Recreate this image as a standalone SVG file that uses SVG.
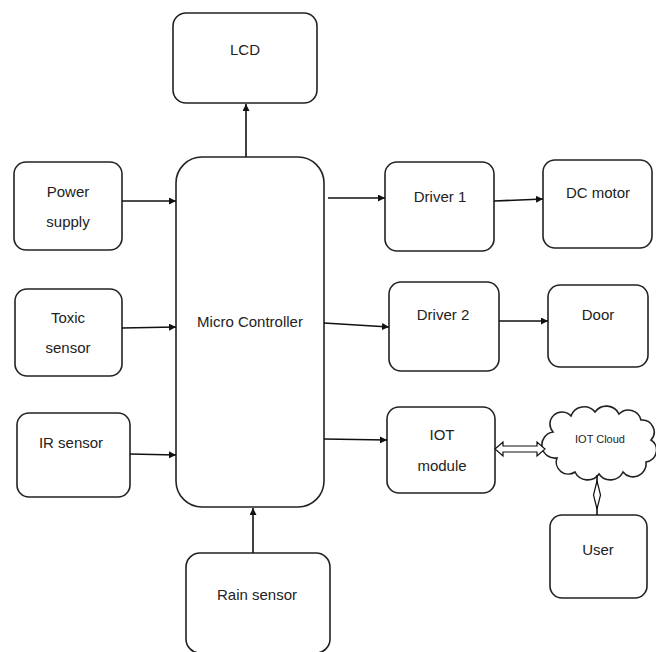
<svg xmlns="http://www.w3.org/2000/svg" width="656" height="652" viewBox="0 0 656 652">
<defs>
<style>
.box{fill:#fff;stroke:#222;stroke-width:1.6}
.t{font-family:"Liberation Sans",Arial,sans-serif;font-size:15px;fill:#222;text-anchor:middle}
.ts{font-family:"Liberation Sans",Arial,sans-serif;font-size:11px;fill:#222;text-anchor:middle}
.c{fill:none;stroke:#111;stroke-width:1.6}
.h{fill:#fff;stroke:#111;stroke-width:1.2}
</style>
<marker id="ah" viewBox="0 0 10 10" refX="10" refY="5" markerWidth="7" markerHeight="7" markerUnits="userSpaceOnUse" orient="auto">
<path d="M0,0 L10,5 L0,10 Z" fill="#111"/>
</marker>
</defs>
<rect width="656" height="652" fill="#fff"/>
<g id="lcd"><rect class="box" x="173" y="13" width="144" height="90" rx="13"/><text class="t" x="245" y="55">LCD</text></g>
<g id="power"><rect class="box" x="14" y="162" width="108" height="88" rx="12"/><text class="t" x="68" y="197">Power</text><text class="t" x="68" y="227">supply</text></g>
<g id="toxic"><rect class="box" x="15" y="289" width="107" height="87" rx="12"/><text class="t" x="68" y="323">Toxic</text><text class="t" x="68" y="353">sensor</text></g>
<g id="ir"><rect class="box" x="17" y="413" width="113" height="84" rx="12"/><text class="t" x="71" y="448">IR sensor</text></g>
<g id="mc"><rect class="box" x="176" y="157" width="148" height="350" rx="26"/><text class="t" x="250" y="327">Micro Controller</text></g>
<g id="rain"><rect class="box" x="186" y="553" width="144" height="100" rx="14"/><text class="t" x="257" y="600">Rain sensor</text></g>
<g id="driver1"><rect class="box" x="385" y="162" width="109" height="89" rx="12"/><text class="t" x="440" y="202">Driver 1</text></g>
<g id="dcmotor"><rect class="box" x="543" y="160" width="109" height="88" rx="12"/><text class="t" x="598" y="198">DC motor</text></g>
<g id="driver2"><rect class="box" x="389" y="282" width="110" height="89" rx="12"/><text class="t" x="443" y="320">Driver 2</text></g>
<g id="door"><rect class="box" x="548" y="285" width="100" height="82" rx="12"/><text class="t" x="598" y="320">Door</text></g>
<g id="iot"><rect class="box" x="387" y="407" width="108" height="86" rx="12"/><text class="t" x="442" y="440">IOT</text><text class="t" x="442" y="471">module</text></g>
<g id="cloud"><path class="box" d="M553 432 a12 12 0 0 1 18 -16 a14 14 0 0 1 24 -4 a14 14 0 0 1 24 2 a13 13 0 0 1 22 6 a12 12 0 0 1 10 20 a12 12 0 0 1 -5 22 a13 13 0 0 1 -23 10 a14 14 0 0 1 -24 2 a14 14 0 0 1 -24 -2 a12 12 0 0 1 -18 -14 a12 12 0 0 1 -4 -26 Z"/><text class="ts" x="600" y="443">IOT Cloud</text></g>
<g id="user"><rect class="box" x="550" y="515" width="97" height="83" rx="12"/><text class="t" x="598" y="555">User</text></g>
<g id="connectors">
<line class="c" x1="246" y1="157" x2="246" y2="104" marker-end="url(#ah)"/>
<line class="c" x1="122" y1="201" x2="176" y2="201" marker-end="url(#ah)"/>
<line class="c" x1="122" y1="328" x2="176" y2="327" marker-end="url(#ah)"/>
<line class="c" x1="130" y1="454" x2="176" y2="455" marker-end="url(#ah)"/>
<line class="c" x1="253" y1="553" x2="253" y2="508" marker-end="url(#ah)"/>
<line class="c" x1="328" y1="198" x2="385" y2="198" marker-end="url(#ah)"/>
<line class="c" x1="494" y1="201" x2="543" y2="199" marker-end="url(#ah)"/>
<line class="c" x1="324" y1="323" x2="389" y2="327" marker-end="url(#ah)"/>
<line class="c" x1="499" y1="321" x2="548" y2="321" marker-end="url(#ah)"/>
<line class="c" x1="324" y1="439" x2="387" y2="440" marker-end="url(#ah)"/>
<polygon class="h" points="495,449 503,442 503,446 537,446 537,442 545,449 537,456 537,452 503,452 503,456"/>
<line class="c" x1="597" y1="475" x2="597" y2="515"/>
<polygon class="h" points="597,481 600.5,495 597,509 593.5,495"/>
</g>
</svg>
